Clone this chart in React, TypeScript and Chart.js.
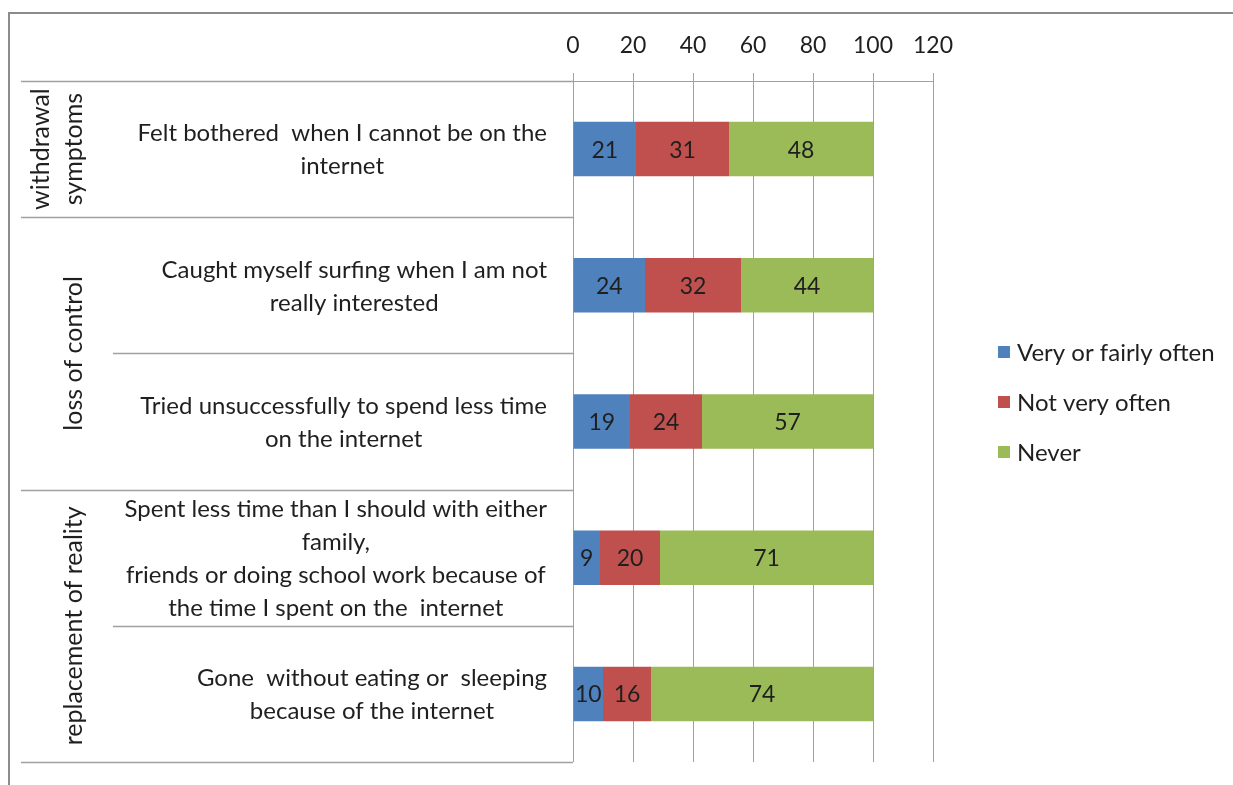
import React, { useEffect, useRef } from "react";
import { Chart, registerables } from "chart.js";

Chart.register(...registerables);

// ---------- data ----------
const categories: string[][] = [
  ["Felt bothered  when I cannot be on the", "internet"],
  ["Caught myself surfing when I am not", "really interested"],
  ["Tried unsuccessfully to spend less time", "on the internet"],
  [
    "Spent less time than I should with either",
    "family,",
    "friends or doing school work because of",
    "the time I spent on the  internet",
  ],
  ["Gone  without eating or  sleeping", "because of the internet"],
];
const groupNames: string[][] = [["withdrawal", "symptoms"], ["loss of control"], ["replacement of reality"]];
const groupFirst = [0, 1, 3];
const groupLast = [0, 2, 4];
const seriesNames = ["Very or fairly often", "Not very often", "Never"];
const veryOften = [21, 24, 19, 9, 10];
const notVeryOften = [31, 32, 24, 20, 16];
const never = [48, 44, 57, 71, 74];
const xMin = 0;
const xMax = 120;
const xStep = 20;

const colors = ["#4F81BD", "#C0504D", "#9BBB59"];
const FONT_FAMILY = "Lato, 'Open Sans', sans-serif";
const TICK_SIZE = 23;
const TEXT_SIZE = 24;
const GROUP_SIZE = 25;
const LINE_COLOR = "#a0a0a0";

const decorPlugin = {
  id: "decor",
  beforeDraw(chart: any) {
    const ctx = chart.ctx;
    ctx.save();
    ctx.strokeStyle = "#8c8c8c";
    ctx.lineWidth = 2;
    ctx.beginPath();
    ctx.moveTo(9, chart.height);
    ctx.lineTo(9, 13);
    ctx.lineTo(chart.width, 13);
    ctx.stroke();
    ctx.restore();
  },
  afterDatasetsDraw(chart: any) {
    const ctx = chart.ctx;
    ctx.save();
    ctx.font = `${TICK_SIZE}px ${FONT_FAMILY}`;
    ctx.fillStyle = "#1f1f1f";
    ctx.textAlign = "center";
    ctx.textBaseline = "middle";
    chart.data.datasets.forEach((ds: any, di: number) => {
      const meta = chart.getDatasetMeta(di);
      meta.data.forEach((el: any, i: number) => {
        const p = el.getProps(["x", "y", "base"], true);
        ctx.fillText(String(ds.data[i]), (p.x + p.base) / 2, p.y + 1);
      });
    });
    ctx.restore();
  },
  afterDraw(chart: any) {
    const ctx = chart.ctx;
    const area = chart.chartArea;
    const ys = chart.scales.y;
    const n = categories.length;
    const boundary = (k: number) => {
      if (k === 0) return area.top;
      if (k === n) return area.bottom;
      return (ys.getPixelForValue(k - 1) + ys.getPixelForValue(k)) / 2;
    };
    const groupBounds = new Set<number>([0, ...groupLast.map((g) => g + 1)]);
    ctx.save();
    ctx.strokeStyle = LINE_COLOR;
    ctx.lineWidth = 1.5;
    for (let k = 0; k <= n; k++) {
      const y = Math.round(boundary(k)) + 0.5;
      ctx.beginPath();
      ctx.moveTo(groupBounds.has(k) ? 21 : 113, y);
      ctx.lineTo(area.left, y);
      ctx.stroke();
    }
    // category labels
    ctx.font = `${TEXT_SIZE}px ${FONT_FAMILY}`;
    ctx.fillStyle = "#1f1f1f";
    ctx.textAlign = "center";
    ctx.textBaseline = "middle";
    const lh = 33;
    const right = area.left - 26;
    categories.forEach((lines, i) => {
      const w = Math.max(...lines.map((l) => ctx.measureText(l).width));
      const cx = right - w / 2;
      const cy = ys.getPixelForValue(i);
      lines.forEach((l, j) => {
        ctx.fillText(l, cx, cy + (j - (lines.length - 1) / 2) * lh + 1);
      });
    });
    // group labels (rotated)
    ctx.font = `${GROUP_SIZE}px ${FONT_FAMILY}`;
    groupNames.forEach((lines, g) => {
      const cy = (boundary(groupFirst[g]) + boundary(groupLast[g] + 1)) / 2;
      lines.forEach((l, j) => {
        const x = 74 - (lines.length - 1 - j) * 33;
        ctx.save();
        ctx.translate(x, cy);
        ctx.rotate(-Math.PI / 2);
        ctx.fillText(l, 0, 0);
        ctx.restore();
      });
    });
    // legend
    ctx.font = `${TEXT_SIZE}px ${FONT_FAMILY}`;
    const lx = area.right + 65;
    const cyc = (area.top + area.bottom) / 2;
    ctx.textAlign = "left";
    chart.data.datasets.forEach((ds: any, i: number) => {
      const y = cyc - 69.5 + i * 50;
      ctx.fillStyle = ds.backgroundColor;
      ctx.fillRect(lx, y - 6, 12, 12);
      ctx.fillStyle = "#1f1f1f";
      ctx.fillText(ds.label, lx + 19, y + 1);
    });
    ctx.restore();
  },
};

export default function App() {
  const ref = useRef<HTMLCanvasElement>(null);
  useEffect(() => {
    const chart = new Chart(ref.current!, {
      type: "bar",
      data: {
        labels: categories.map((c) => c.join(" ")),
        datasets: [veryOften, notVeryOften, never].map((d, i) => ({
          label: seriesNames[i],
          data: d,
          backgroundColor: colors[i],
          borderWidth: 0,
          barPercentage: 0.4,
          categoryPercentage: 1,
        })),
      },
      options: {
        indexAxis: "y",
        animation: false,
        responsive: false,
        maintainAspectRatio: false,
        layout: { padding: { left: 0, top: 0, right: 300, bottom: 23 } },
        plugins: { legend: { display: false }, tooltip: { enabled: false } },
        scales: {
          x: {
            position: "top",
            stacked: true,
            min: xMin,
            max: xMax,
            ticks: {
              stepSize: xStep,
              padding: 14,
              color: "#1f1f1f",
              font: { family: FONT_FAMILY, size: TICK_SIZE },
            },
            grid: { color: LINE_COLOR, lineWidth: 1, tickLength: 8, drawTicks: true },
            border: { display: true, color: LINE_COLOR, width: 1 },
            afterFit(scale: any) {
              scale.height = 81;
            },
          },
          y: {
            stacked: true,
            ticks: { display: false },
            grid: { display: false },
            border: { display: false },
            afterFit(scale: any) {
              scale.width = 573;
            },
          },
        },
      },
      plugins: [decorPlugin],
    } as any);
    return () => chart.destroy();
  }, []);
  return (
    <>
      <style>{`html,body{margin:0;padding:0;overflow:hidden;background:#fff}`}</style>
      <canvas ref={ref} width={1233} height={785} style={{ display: "block" }} />
    </>
  );
}
